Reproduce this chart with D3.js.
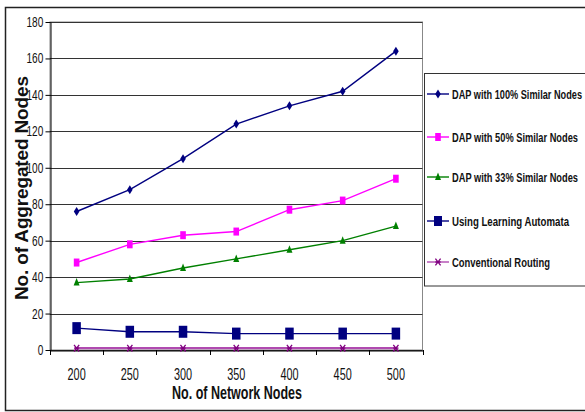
<!DOCTYPE html>
<html><head><meta charset="utf-8">
<script src="https://cdn.jsdelivr.net/npm/d3@7"></script>
<style>
body{margin:0;background:#fff;}
svg text{font-family:"Liberation Sans",Arial,sans-serif;}
</style></head>
<body><svg id="c" width="585" height="412"></svg>
<script>
const categories = [200, 250, 300, 350, 400, 450, 500];
const seriesNames = ["DAP with 100% Similar Nodes","DAP with 50% Similar Nodes","DAP with 33% Similar Nodes","Using Learning Automata","Conventional Routing"];
const dap100 = [76, 88, 105, 124, 134, 142, 164];
const dap50 = [48, 58, 63, 65, 77, 82, 94];
const dap33 = [37, 39, 45, 50, 55, 60, 68];
const learning = [12, 10, 10, 9, 9, 9, 9];
const conventional = [1, 1, 1, 1, 1, 1, 1];
const yTicks = [0, 20, 40, 60, 80, 100, 120, 140, 160, 180];

const colors = ["#000080","#FF00FF","#008000","#000080","#800080"];
const markers = ["diamond","square","triangle","bigsquare","star"];
const data = [dap100, dap50, dap33, learning, conventional];
const SX = 0.72; // horizontal condensation of the narrow font

const svg = d3.select("#c");
svg.append("rect").attr("x",5.5).attr("y",7.5).attr("width",585).attr("height",403)
  .attr("fill","none").attr("stroke","#222").attr("stroke-width",1.5);

const L=50, R=422.5, T=22, B=350;
const x = d3.scaleBand().domain(categories).range([L,R]);
const y = d3.scaleLinear().domain([0,180]).range([B,T]);

svg.append("rect").attr("x",L).attr("y",T).attr("width",R-L).attr("height",B-T)
  .attr("fill","none").attr("stroke","#888").attr("stroke-width",1);

svg.append("g").selectAll("line").data(yTicks).join("line")
  .attr("x1",L).attr("x2",R).attr("y1",d=>Math.round(y(d))+0.5).attr("y2",d=>Math.round(y(d))+0.5)
  .attr("stroke","#333").attr("stroke-width",1);

const ya = svg.append("g").attr("transform",`translate(${L+0.5},0)`)
  .call(d3.axisLeft(y).tickValues(yTicks).tickSize(5).tickSizeOuter(0));
ya.select(".domain").attr("stroke","#000");
ya.selectAll("text").attr("font-size",14).attr("fill","#111")
  .attr("x",-10).attr("transform",`scale(${SX},1)`);
const xa = svg.append("g").attr("transform",`translate(0,${B+0.5})`)
  .call(d3.axisBottom(x).tickSize(0).tickSizeOuter(0));
xa.select(".domain").attr("stroke","#000");
xa.selectAll("text").attr("font-size",16).attr("fill","#111").attr("y",0).attr("dy","1.85em")
  .attr("transform",`scale(0.68,1)`);
const bounds = categories.map(c=>x(c)).concat([R]);
svg.append("g").selectAll("line").data(bounds).join("line")
  .attr("x1",d=>Math.round(d)+0.5).attr("x2",d=>Math.round(d)+0.5).attr("y1",B).attr("y2",B+5)
  .attr("stroke","#000");

const cx = c => x(c) + x.bandwidth()/2;

function drawMarker(g, type, color, px, py, legend){
  if(type==="diamond"){
    g.append("path").attr("d",`M${px},${py-4.5}L${px+2.8},${py}L${px},${py+4.5}L${px-2.8},${py}Z`).attr("fill",color);
  } else if(type==="square"){
    g.append("rect").attr("x",px-2.8).attr("y",py-4).attr("width",5.6).attr("height",8).attr("fill",color);
  } else if(type==="triangle"){
    g.append("path").attr("d",`M${px},${py-4.5}L${px+3},${py+3}L${px-3},${py+3}Z`).attr("fill",color);
  } else if(type==="bigsquare"){
    const w = legend?8:8.5, h = legend?10:12;
    g.append("rect").attr("x",px-w/2).attr("y",py-h/2).attr("width",w).attr("height",h).attr("fill",color);
  } else if(type==="star"){
    const sx=2.6, sy=3.3;
    g.append("path").attr("d",`M${px-sx},${py-sy}L${px+sx},${py+sy}M${px+sx},${py-sy}L${px-sx},${py+sy}M${px-sx},${py}L${px+sx},${py}`)
      .attr("stroke",color).attr("stroke-width",1.3).attr("fill","none");
  }
}

const line = d3.line().x((d,i)=>cx(categories[i])).y(d=>y(d));
data.forEach((vals,si)=>{
  const g = svg.append("g");
  g.append("path").datum(vals).attr("d",line).attr("fill","none")
    .attr("stroke",si===4?"#B04AB0":colors[si]).attr("stroke-width",si===4?2.2:1.4);
  vals.forEach((v,i)=>drawMarker(g, markers[si], colors[si], cx(categories[i]), y(v)));
});

svg.append("text").attr("x",172).attr("y",399)
  .attr("font-size",18).attr("font-weight","bold").attr("fill","#111")
  .attr("textLength",130).attr("lengthAdjust","spacingAndGlyphs").text("No. of Network Nodes");
svg.append("text").attr("transform","translate(28,300) rotate(-90)")
  .attr("font-size",19).attr("font-weight","bold").attr("fill","#111")
  .attr("textLength",224).attr("lengthAdjust","spacing")
  .text("No. of Aggregated Nodes");

svg.append("rect").attr("x",424.5).attr("y",73.5).attr("width",170).attr("height",212.5)
  .attr("fill","#fff").attr("stroke","#333").attr("stroke-width",1);
const ly = [94, 137, 177, 221, 262];
const lw = [130, 126, 126, 117, 98];
seriesNames.forEach((n,i)=>{
  const g = svg.append("g");
  g.append("line").attr("x1",427).attr("x2",449).attr("y1",ly[i]).attr("y2",ly[i])
    .attr("stroke",i===4?"#B04AB0":colors[i]).attr("stroke-width",1.4);
  drawMarker(g, markers[i], colors[i], 438, ly[i], true);
  g.append("text").attr("x",452).attr("y",ly[i]+4.5).attr("font-size",12.5).attr("font-weight","bold")
    .attr("fill","#111").attr("textLength",lw[i]).attr("lengthAdjust","spacingAndGlyphs").text(n);
});
</script></body></html>
